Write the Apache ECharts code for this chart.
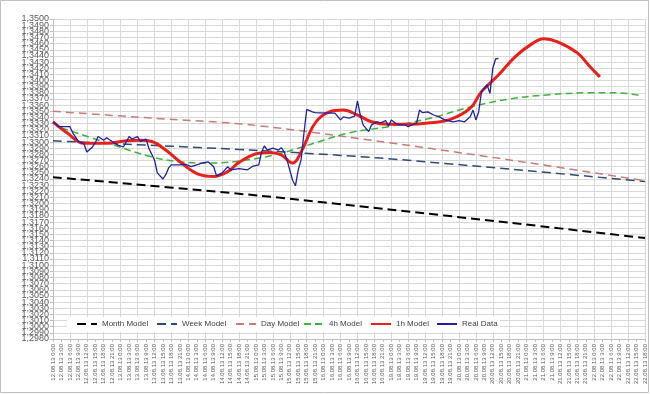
<!DOCTYPE html>
<html>
<head>
<meta charset="utf-8">
<script src="https://cdn.jsdelivr.net/npm/echarts@6/dist/echarts.min.js"></script>
<style>
html,body{margin:0;padding:0;background:#fff;}
#chart{width:650px;height:394px;}
</style>
</head>
<body>
<div id="chart"></div>
<script>
// ---- tick labels (trading days only, 3-hour steps) ----
const days = ['12.08.13','13.08.13','14.08.13','15.08.13','16.08.13','19.08.13','20.08.13','21.08.13','22.08.13'];
const hourLabels = ['0:00','3:00','6:00','9:00','12:00','15:00','18:00','21:00'];
const lastDayHourLabels = ['0:00','3:00','6:00','9:00','12:00','15:00','18:00'];
const yMin = 1.298, yMax = 1.35, yStep = 0.001;

// ---- series (x = trading hour since 12.08.13 0:00) ----
const monthHours = [0, 73, 120, 158, 210];
const monthValues = [1.3243, 1.3213, 1.3190, 1.3171, 1.3144];

const weekHours = [0, 70, 116, 162, 210];
const weekValues = [1.3302, 1.3287, 1.3274, 1.3256, 1.3236];

const dayHours = [0, 35, 70, 116, 162, 210];
const dayValues = [1.3350, 1.3339, 1.3328, 1.3301, 1.3271, 1.3237];

const h4Hours = [3, 19, 35, 45, 55, 64, 73, 81, 94, 105, 119, 134, 148, 162, 176, 190, 200, 209];
const h4Values = [1.3323, 1.3299, 1.3276, 1.3268, 1.3266, 1.3268, 1.3274, 1.3282, 1.3300, 1.3315, 1.3325, 1.3339, 1.3357, 1.3370, 1.3377, 1.3380, 1.3380, 1.3375];

const h1Hours = [0, 5, 11, 19, 26, 31, 35, 40, 45, 52, 57, 62, 66, 73, 77, 81, 85, 88, 93, 98, 103, 108, 113, 119, 126, 133, 141, 148, 152, 158, 164, 170, 174, 179, 186, 190, 194];
const h1Values = [1.3333, 1.3315, 1.3298, 1.3298, 1.3302, 1.3303, 1.3301, 1.3287, 1.3268, 1.3247, 1.3244, 1.3252, 1.3267, 1.3282, 1.3283, 1.3279, 1.3266, 1.3284, 1.3331, 1.3349, 1.3352, 1.3344, 1.3333, 1.3329, 1.3329, 1.3331, 1.3337, 1.3355, 1.3382, 1.3409, 1.3439, 1.3460, 1.3468, 1.3463, 1.3445, 1.3425, 1.3406];

const realHours = [0, 2, 6, 7, 9, 11, 12, 14, 15, 16, 18, 19, 21, 23, 25, 27, 28, 30, 31, 33,
  34, 36, 37, 39, 40, 41, 42, 45, 47, 49, 51, 53, 55, 57, 58, 60, 62, 63, 66, 69,
  71, 73, 74, 75, 76, 78, 80, 81, 82, 83, 85, 86, 87, 88, 89, 90, 92, 93, 97, 100,
  102, 103, 105, 107, 108, 109, 110, 112, 113, 115, 116, 118, 119, 120, 122, 123, 125, 126, 129, 130,
  131, 133, 135, 137, 139, 142, 144, 146, 148, 149, 150, 151, 152, 154, 155, 156, 157, 158];
const realValues = [1.3333, 1.3325, 1.3325, 1.3315, 1.3301, 1.3297, 1.3284, 1.3292, 1.3299, 1.3309, 1.3303, 1.3307, 1.3301, 1.3295, 1.3292, 1.3309, 1.3305, 1.3309, 1.3301, 1.3305,
  1.3290, 1.3271, 1.3250, 1.3240, 1.3247, 1.3258, 1.3263, 1.3263, 1.3264, 1.3260, 1.3263, 1.3266, 1.3268, 1.3260, 1.3245, 1.3250, 1.3260, 1.3255, 1.3257, 1.3255,
  1.3261, 1.3263, 1.3284, 1.3294, 1.3287, 1.3290, 1.3287, 1.3291, 1.3284, 1.3271, 1.3238, 1.3229, 1.3255, 1.3271, 1.3314, 1.3353, 1.3349, 1.3348, 1.3347, 1.3347,
  1.3336, 1.3341, 1.3339, 1.3342, 1.3367, 1.3344, 1.3328, 1.3317, 1.3328, 1.3333, 1.3331, 1.3335, 1.3326, 1.3336, 1.3329, 1.3328, 1.3328, 1.3325, 1.3331, 1.3352,
  1.3348, 1.3349, 1.3344, 1.3341, 1.3336, 1.3333, 1.3335, 1.3333, 1.3341, 1.3352, 1.3336, 1.3349, 1.3382, 1.3393, 1.3379, 1.3420, 1.3435, 1.3436];

const seriesNames = ['Month Model', 'Week Model', 'Day Model', '4h Model', '1h Model', 'Real Data'];

// ---- build ----
const categories = [];
days.forEach((d, i) => {
  const hs = (i === days.length - 1) ? lastDayHourLabels : hourLabels;
  hs.forEach(h => categories.push(d + ' ' + h));
});
const yTickLabels = [];
for (let k = 0; k <= Math.round((yMax - yMin) / yStep); k++) {
  yTickLabels.push((yMin + k * yStep).toFixed(4).replace('.', ','));
}
const zip = (xs, ys) => xs.map((x, i) => [x, ys[i]]);

const chart = echarts.init(document.getElementById('chart'), null, {renderer: 'canvas'});
const font = 'Liberation Sans, Arial, sans-serif';
const legendLefts = [76, 156, 235, 303, 370, 436];

const mkLine = (name, data, color, width, type, smooth, z) => ({
  name, type: 'line', xAxisIndex: 1, yAxisIndex: 0, data, symbol: 'none', smooth,
  lineStyle: {color, width, type, cap: 'butt'}, itemStyle: {color}, z,
  emphasis: {disabled: true}, animation: false
});

chart.setOption({
  backgroundColor: '#fff',
  animation: false,
  textStyle: {fontFamily: font},
  grid: {left: 53, top: 19, right: 5, bottom: 55},
  graphic: [
    {type: 'rect', shape: {x: 0.5, y: 0.5, width: 648, height: 392}, style: {fill: 'none', stroke: '#BFBFBF', lineWidth: 1}, z: 0},
    {type: 'rect', shape: {x: 67, y: 317, width: 433, height: 15}, style: {fill: '#fff'}, z: 3}
  ],
  legend: seriesNames.map((n, i) => ({
    data: [n], left: legendLefts[i], top: 320, padding: 0,
    itemWidth: 20, itemHeight: 8, itemGap: 4,
    itemStyle: {opacity: 0},
    textStyle: {fontSize: 8, color: '#404040', fontFamily: font},
    selectedMode: false, z: 5
  })),
  xAxis: [
    {
      type: 'category', data: categories, boundaryGap: false,
      axisLine: {lineStyle: {color: '#BFBFBF'}},
      axisTick: {show: true, interval: 0, length: 3, lineStyle: {color: '#BFBFBF'}},
      axisLabel: {interval: 0, rotate: 90, fontSize: 6, color: '#595959', margin: 5, fontFamily: font},
      splitLine: {show: true, interval: 1, lineStyle: {color: '#D9D9D9', width: 1}}
    },
    {
      type: 'value', min: 0, max: 210, show: false, position: 'top',
      splitLine: {show: false}
    }
  ],
  yAxis: [
    {
      type: 'value', min: yMin, max: yMax, interval: yStep, position: 'left',
      axisLine: {show: true, lineStyle: {color: '#BFBFBF'}},
      axisTick: {show: true, length: 3, lineStyle: {color: '#BFBFBF'}},
      axisLabel: {show: false},
      splitLine: {show: true, lineStyle: {color: '#D9D9D9', width: 1}}
    },
    {
      type: 'category', data: yTickLabels, boundaryGap: false, position: 'left', offset: 0,
      axisLine: {show: false}, axisTick: {show: false}, splitLine: {show: false},
      axisLabel: {interval: 0, fontSize: 9, color: '#595959', margin: 4, fontFamily: font}
    }
  ],
  series: [
    mkLine('Month Model', zip(monthHours, monthValues), '#000000', 2, [9, 5], 0.3, 2),
    mkLine('Week Model', zip(weekHours, weekValues), '#2E4A78', 1.5, [9, 5], 0.3, 2),
    mkLine('Day Model', zip(dayHours, dayValues), '#C97B78', 1.5, [8, 5], 0.3, 2),
    mkLine('4h Model', zip(h4Hours, h4Values), '#3DB23D', 1.5, [7, 4], 0.4, 2),
    mkLine('1h Model', zip(h1Hours, h1Values), '#E8201C', 3, 'solid', 0.4, 3),
    mkLine('Real Data', zip(realHours, realValues), '#2121A0', 1.3, 'solid', false, 4)
  ]
});
</script>
</body>
</html>
